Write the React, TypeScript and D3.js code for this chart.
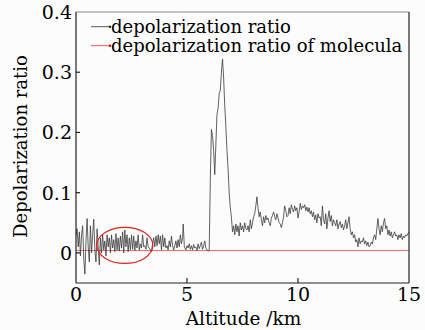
import React from "react";
import * as d3 from "d3";

const altitude = [
  0.00,0.05,0.10,0.15,0.20,0.25,0.30,0.35,0.40,0.45,0.50,0.55,0.60,0.65,0.70,0.75,0.80,0.85,0.90,0.95,
  1.00,1.05,1.10,1.15,1.20,1.25,1.30,1.35,1.40,1.45,1.50,1.55,1.60,1.65,1.70,1.75,1.80,1.85,1.90,1.95,
  2.00,2.05,2.10,2.15,2.20,2.25,2.30,2.35,2.40,2.45,2.50,2.55,2.60,2.65,2.70,2.75,2.80,2.85,2.90,2.95,
  3.00,3.05,3.10,3.15,3.20,3.25,3.30,3.40,3.45,3.50,3.55,3.60,3.65,3.70,3.75,3.80,3.85,3.90,3.95,
  4.00,4.05,4.10,4.15,4.20,4.25,4.30,4.35,4.40,4.45,4.50,4.55,4.60,4.65,4.70,4.75,4.80,4.83,4.88,4.95,
  5.00,5.05,5.10,5.15,5.20,5.25,5.30,5.35,5.40,5.45,5.50,5.55,5.60,5.65,5.70,5.75,5.80,5.85,5.90,5.95,
  6.00,6.05,6.10,6.15,6.20,6.25,6.30,6.35,6.40,6.45,6.50,6.55,6.60,6.65,6.70,6.75,6.80,6.85,6.90,6.95,
  7.00,7.05,7.10,7.15,7.20,7.25,7.30,7.35,7.40,7.45,7.50,7.55,7.60,7.65,7.70,7.75,7.80,7.85,7.90,7.95,
  8.00,8.05,8.10,8.15,8.20,8.25,8.30,8.35,8.40,8.45,8.50,8.55,8.60,8.65,8.70,8.75,8.80,8.85,8.90,8.95,
  9.00,9.05,9.10,9.15,9.20,9.25,9.30,9.35,9.40,9.45,9.50,9.55,9.60,9.65,9.70,9.75,9.80,9.85,9.90,9.95,
  10.00,10.05,10.10,10.15,10.20,10.25,10.30,10.35,10.40,10.45,10.50,10.55,10.60,10.65,10.70,10.75,10.80,10.85,10.90,10.95,
  11.00,11.05,11.10,11.15,11.20,11.25,11.30,11.35,11.40,11.45,11.50,11.55,11.60,11.65,11.70,11.75,11.80,11.85,11.90,11.95,
  12.00,12.05,12.10,12.15,12.20,12.25,12.30,12.35,12.40,12.45,12.50,12.55,12.60,12.65,12.70,12.75,12.80,12.85,12.90,12.95,
  13.00,13.05,13.10,13.15,13.20,13.25,13.30,13.35,13.40,13.45,13.50,13.55,13.60,13.65,13.70,13.75,13.80,13.85,13.90,13.95,
  14.00,14.05,14.10,14.15,14.20,14.25,14.30,14.35,14.40,14.45,14.50,14.55,14.60,14.65,14.70,14.75,14.80,14.85,14.90,14.95,
  15.00,
];

const depolRatio = [
  0.030,0.040,0.010,0.035,-0.005,0.030,0.045,-0.010,-0.035,0.020,0.057,0.010,-0.015,0.045,0.000,0.030,0.056,0.005,-0.015,0.040,
  0.010,-0.020,0.025,0.000,0.030,0.005,0.020,-0.005,0.030,0.010,0.025,0.000,0.030,0.008,0.022,0.002,0.032,0.005,0.025,0.003,
  0.028,0.008,0.035,0.000,0.038,0.010,0.030,0.002,0.025,0.005,0.030,0.006,0.028,0.004,0.020,0.008,0.030,0.005,0.015,0.008,
  0.030,0.010,0.012,0.006,0.025,0.010,0.008,0.002,0.015,0.025,0.010,0.028,0.012,0.030,0.015,0.028,0.005,0.030,0.010,
  0.025,0.008,0.012,0.005,0.020,0.010,0.028,0.012,0.005,0.012,0.020,0.008,0.022,0.010,0.030,0.015,0.025,0.048,0.010,0.005,
  0.012,0.008,0.015,0.006,0.012,0.005,0.014,0.008,0.010,0.004,0.015,0.007,0.012,0.018,0.006,0.012,0.020,0.008,0.005,0.003,
  0.004,0.120,0.205,0.195,0.170,0.130,0.180,0.230,0.240,0.265,0.270,0.300,0.322,0.290,0.245,0.210,0.170,0.140,0.100,0.075,
  0.060,0.035,0.045,0.030,0.048,0.035,0.045,0.028,0.050,0.038,0.045,0.035,0.050,0.040,0.038,0.045,0.035,0.055,0.040,0.050,
  0.060,0.065,0.078,0.093,0.075,0.060,0.068,0.055,0.045,0.060,0.050,0.062,0.055,0.058,0.050,0.045,0.058,0.062,0.068,0.060,
  0.055,0.065,0.058,0.050,0.048,0.042,0.050,0.060,0.078,0.070,0.060,0.062,0.075,0.065,0.080,0.072,0.068,0.078,0.070,0.075,
  0.058,0.068,0.082,0.072,0.078,0.075,0.080,0.070,0.076,0.068,0.075,0.065,0.070,0.060,0.068,0.055,0.063,0.050,0.065,0.058,
  0.060,0.045,0.078,0.055,0.048,0.065,0.040,0.058,0.070,0.052,0.062,0.045,0.055,0.050,0.045,0.055,0.040,0.048,0.052,0.042,
  0.048,0.038,0.045,0.055,0.040,0.050,0.060,0.040,0.030,0.035,0.025,0.030,0.018,0.022,0.010,0.025,0.015,0.020,0.018,0.025,
  0.015,0.020,0.012,0.018,0.010,0.012,0.018,0.015,0.025,0.030,0.022,0.040,0.057,0.040,0.030,0.045,0.035,0.050,0.057,0.040,
  0.045,0.030,0.038,0.028,0.035,0.025,0.030,0.035,0.028,0.030,0.022,0.030,0.025,0.032,0.022,0.028,0.025,0.030,0.028,0.032,
  0.035,
];

const molecularRatio = [0.004, 0.004];
const molecularAltitude = [0, 15];

const xTicks = [0, 5, 10, 15];
const yTicks = [0, 0.1, 0.2, 0.3, 0.4];
const yTickLabels = ["0", "0.1", "0.2", "0.3", "0.4"];
const seriesNames = ["depolarization ratio", "depolarization ratio of molecula"];

const W = 425, H = 330;
const M = { left: 76, right: 16, top: 12, bottom: 47 };
const FONT = "'DejaVu Serif', serif";

export default function App() {
  const x = d3.scaleLinear().domain([0, 15]).range([M.left, W - M.right]);
  const y = d3.scaleLinear().domain([-0.05, 0.4]).range([H - M.bottom, M.top]);
  const line = d3.line<number>()
    .x((_, i) => x(altitude[i]))
    .y((d) => y(d));
  const molLine = d3.line<number>()
    .x((_, i) => x(molecularAltitude[i]))
    .y((d) => y(d));

  const x0 = x(0), x1 = x(15), yb = y(-0.05), yt = y(0.4);
  const ecx = x(2.2), ecy = y(0.0125);
  const erx = x(2.2 + 1.26) - x(2.2);
  const ery = y(0) - y(0.03);

  return (
    <svg width={W} height={H} style={{ position: "absolute", left: 0, top: 0, background: "#fcfcfc" }}>
      <rect x={0} y={0} width={W} height={H} fill="#fcfcfc" />
      <path d={molLine(molecularRatio) || ""} fill="none" stroke="#f26a6a" strokeWidth={1} />
      <path d={line(depolRatio) || ""} fill="none" stroke="#3a3a3a" strokeWidth={0.8} strokeLinejoin="round" />
      <ellipse cx={ecx} cy={ecy} rx={erx} ry={ery} fill="none" stroke="#e2231a" strokeWidth={1.2} />

      <line x1={x0} x2={x1} y1={yt} y2={yt} stroke="#8a8a8a" strokeWidth={1.2} />
      <line x1={x0} x2={x0} y1={yt} y2={yb} stroke="#222" strokeWidth={1.2} />
      <line x1={x1} x2={x1} y1={yt} y2={yb} stroke="#222" strokeWidth={1.2} />
      <line x1={x0} x2={x1} y1={yb} y2={yb} stroke="#222" strokeWidth={1.2} />

      {xTicks.map((t) => (
        <g key={"x" + t}>
          {t > 0 && t < 15 && (
            <line x1={x(t)} x2={x(t)} y1={yb} y2={yb - 5} stroke="#222" strokeWidth={1.2} />
          )}
          <text x={x(t)} y={yb + 18} textAnchor="middle" fontFamily={FONT} fontSize={19} fill="#000">{t}</text>
        </g>
      ))}
      {yTicks.map((t, i) => (
        <g key={"y" + t}>
          {t < 0.4 && (
            <line x1={x0} x2={x0 + 4} y1={y(t)} y2={y(t)} stroke="#222" strokeWidth={1.2} />
          )}
          <text x={x0 - 4} y={y(t) + 7} textAnchor="end" fontFamily={FONT} fontSize={19} fill="#000">{yTickLabels[i]}</text>
        </g>
      ))}

      <text x={(x0 + x1) / 2 + 1} y={H - 5} textAnchor="middle" fontFamily={FONT} fontSize={18.5} fill="#000">Altitude /km</text>
      <text transform={`translate(27,${(yt + yb) / 2 - 1}) rotate(-90)`} textAnchor="middle" fontFamily={FONT} fontSize={18} fill="#000">Depolarization ratio</text>

      {seriesNames.map((n, i) => {
        const ly = 26.7 + i * 19;
        const col = i === 0 ? "#444" : "#f04040";
        return (
          <g key={n}>
            <line x1={91} x2={110} y1={ly} y2={ly} stroke={col} strokeWidth={0.9} />
            <circle cx={110} cy={ly} r={1.2} fill={i === 0 ? "#222" : "#e00000"} />
            <text x={111} y={ly + 6.6} fontFamily={FONT} fontSize={18} fill="#000">{n}</text>
          </g>
        );
      })}
    </svg>
  );
}
